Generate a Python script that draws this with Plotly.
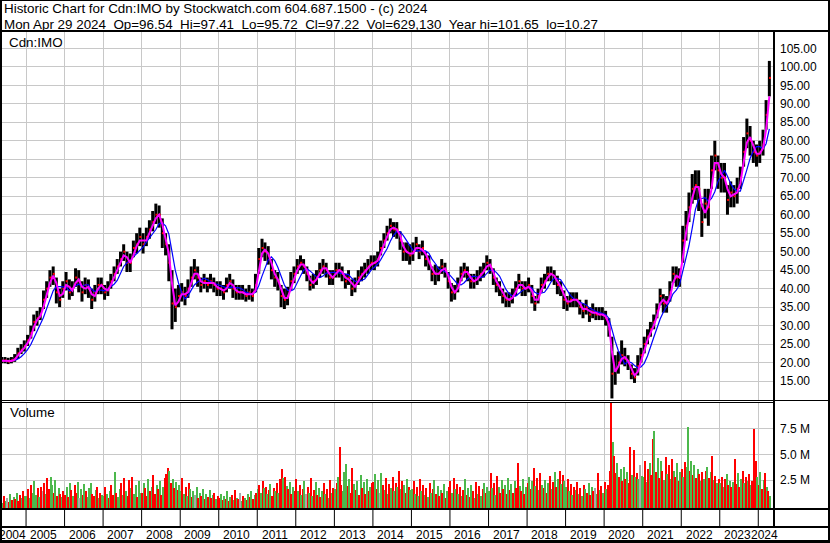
import plotly.graph_objects as go
import pandas as pd

W, H = 830, 543


def px(x):
    return x / W


def py(y):
    return 1 - y / H


FONT = "Liberation Sans, Arial, sans-serif"

# ---------------- data (monthly, May 2004 .. Apr 2024) ----------------
CLOSE = [
    20.5, 20.6, 20.3, 20.6, 21.0, 22.5, 23.5, 24.5,
    26, 28, 31, 32, 33, 37, 40, 43, 44, 39, 37, 40,
    42, 39, 40, 43, 42, 39, 41, 40, 37, 39, 41, 41,
    39, 40, 42, 44, 46, 48, 50, 47, 47, 51, 52, 54,
    52, 54, 56, 58, 60, 60, 55, 52, 47, 36, 35, 38,
    39, 38, 40, 43, 45, 43, 41, 42, 41, 42, 41, 40,
    40, 39, 41, 42, 40, 39, 39, 39, 38, 39, 38, 41,
    48, 51, 50, 49, 45, 43, 42, 38, 37, 38, 42, 44,
    46, 47, 46, 44, 41, 42, 43, 45, 46, 45, 43, 43,
    45, 45, 44, 42, 43, 40, 41, 43, 44, 45, 46, 47,
    47, 48, 51, 53, 55, 57, 56, 56, 53, 50, 50, 49,
    50, 52, 50, 51, 48, 47, 44, 44, 44, 46, 45, 42,
    39, 39, 41, 44, 45, 44, 42, 42, 43, 44, 45, 47,
    46, 43, 41, 40, 38, 37, 37, 38, 40, 42, 40, 40,
    41, 38, 36, 38, 41, 42, 44, 44, 43, 41, 40, 37,
    36, 37, 37, 37, 35, 34, 35, 33, 34, 33, 33, 33,
    32, 29, 17, 18, 20, 22, 21, 20, 17, 16, 19, 22,
    25, 27, 29, 31, 34, 38, 36, 36, 39, 44, 43, 43,
    53, 57, 62, 67, 68, 67, 58, 63, 62, 72, 76, 72,
    70, 70, 64, 66, 65, 67, 70, 77, 82, 80, 77, 76,
    77, 79, 87, 97,
]
HIGH = [
    21.5, 21.5, 21.3, 21.5, 22.3, 24.0, 25.0, 26.0,
    27.5, 30, 33, 34, 35, 39.5, 42, 45, 46, 43, 40, 42,
    44.5, 42.5, 42, 45.5, 45, 42, 43, 42.5, 40, 41, 43, 43,
    41, 42, 44, 46, 48, 50, 52, 50, 49.5, 53, 55, 56.5,
    55, 56.5, 58.5, 61, 63, 62.5, 59, 55, 52, 45, 40, 41,
    41.5, 40.5, 42.5, 46, 48, 46, 43, 44, 43, 44, 43, 42,
    42, 41, 43, 44, 42.5, 41, 41, 41, 40, 41, 40, 44,
    51, 53.5, 52.5, 51.5, 48, 45, 44.5, 41, 40, 40.5, 44.5, 46,
    48, 49, 48, 46, 43.5, 44, 45, 47, 48, 47, 45, 45,
    47, 47, 46, 44, 45, 42.5, 43, 45, 46, 47, 48, 49,
    49, 50, 53, 55, 57, 59, 58, 58, 55.5, 52.5, 52.5, 52,
    52.5, 54, 52, 53, 50, 49, 46, 46.5, 46, 48, 47, 44.5,
    41.5, 41, 43, 46, 47, 46, 44, 44, 45, 46, 47, 49,
    48, 45.5, 43, 42, 40, 39, 39, 40, 42, 44, 42, 42,
    43, 41, 38, 40, 43, 44, 46, 46, 45, 43.5, 42, 39.5,
    38, 39, 39, 39, 37, 36, 37, 35, 36, 35, 35, 35,
    34, 32, 27, 22, 23, 26, 24, 22, 19.5, 18.5, 22, 24,
    27, 29, 31, 33, 36, 40, 38.5, 38, 42, 46, 46, 45.5,
    57, 61, 66, 71, 72, 72, 63, 67, 67, 76, 80, 76,
    74, 74, 68, 69, 68, 70, 73, 81, 86, 84, 80, 79,
    80, 83, 91, 101.6,
]
LOW = [
    19.8, 19.8, 19.6, 19.8, 20.2, 21.0, 22.3, 23.0,
    24.5, 26.5, 28.5, 30, 31.5, 34.5, 37.5, 40.5, 41, 36, 35, 37.5,
    39.5, 37, 38, 40.5, 39, 36.5, 38.5, 37.5, 34.5, 36.5, 38.5, 38.5,
    37, 38, 40, 42, 44, 46, 47.5, 44.5, 44.5, 48.5, 49.5, 51.5,
    49.5, 51.5, 53.5, 55.5, 57.5, 56.5, 51, 49, 42, 29, 31, 35,
    36.5, 35.5, 37.5, 40.5, 42.5, 40.5, 39, 40, 39, 40, 39, 38,
    38, 37, 39, 40, 37.5, 37, 37, 37, 36.5, 37, 36.5, 39,
    44, 48.5, 47.5, 46.5, 42.5, 40.5, 39.5, 35, 34.5, 35.5, 39.5, 41.5,
    44, 45, 44, 42, 39.5, 40, 41, 43, 44, 43, 41, 41,
    43, 43, 42, 40, 41, 38, 39, 41, 42, 43, 44, 45,
    45, 46, 49, 51, 53, 55, 54, 53.5, 50.5, 47.5, 47.5, 46.5,
    47.5, 50, 48, 49, 46, 45, 42, 41, 42, 44, 43, 40,
    36.5, 37, 39, 42, 43, 42, 40, 40, 41, 42, 43, 45,
    44, 41, 39, 38, 36, 35, 35, 36, 38, 40, 38, 38,
    39, 36, 34, 36, 39, 40, 42, 42, 41, 38.5, 38, 34.5,
    34, 35, 35, 35, 33, 32, 33, 31, 32, 31.5, 31.5, 31.5,
    30, 27, 10.3, 14, 17, 19.5, 19, 18, 15.5, 14.5, 16.5, 20,
    22.5, 25, 27, 29, 32, 35.5, 33.5, 33.5, 36.5, 41.5, 40.5, 40.5,
    47, 53, 58, 63, 64, 61, 54, 59, 57, 67, 72, 67,
    66, 66, 60, 62, 62, 63, 67, 73, 78, 76, 74, 73,
    74, 76, 83, 92,
]

# volume, millions, two bars per month
VOLUME = [
    0.9, 0.5, 1.2, 0.7, 1.0, 0.6, 1.4, 0.8, 1.1, 0.9, 1.5, 0.7, 1.3, 1.0, 1.6, 1.2,
    1.2, 1.8, 1.0, 2.2, 1.5, 2.6, 1.3, 1.9, 1.1, 2.0, 1.6, 2.4, 1.4, 2.9, 1.8, 3.0, 2.2, 1.5, 2.7, 1.2, 1.9, 1.4, 1.1, 1.6,
    1.3, 2.0, 1.1, 2.4, 1.7, 1.2, 2.2, 1.5, 2.5, 1.0, 1.8, 1.3, 2.3, 1.6, 1.1, 1.9, 2.4, 1.4, 1.2, 1.7, 2.0, 1.0, 1.5, 1.3,
    1.2, 2.0, 1.4, 1.0, 1.6, 2.2, 1.3, 3.5, 1.5, 1.1, 1.8, 2.4, 1.3, 2.9, 1.6, 1.2, 2.7, 1.9, 3.0, 1.4, 2.2, 1.1, 2.6, 1.5,
    1.5, 2.4, 1.9, 1.2, 2.8, 1.6, 2.0, 3.2, 1.4, 2.2, 1.8, 2.6, 1.3, 2.0, 2.9, 3.3, 3.9, 3.6, 2.4, 2.8, 1.9, 2.5, 1.7, 2.2,
    1.6, 2.9, 1.4, 2.0, 1.2, 2.4, 1.8, 1.1, 1.6, 1.3, 2.0, 1.0, 1.5, 1.2, 1.8, 0.9, 1.4, 1.1, 1.7, 1.0, 1.3, 1.5, 0.9, 1.2,
    1.0, 1.4, 0.8, 1.2, 0.9, 1.6, 0.7, 1.1, 1.3, 0.8, 1.7, 1.0, 0.9, 1.5, 0.7, 1.2, 1.0, 0.8, 1.4, 1.1, 1.6, 0.9, 1.3, 1.5,
    1.8, 2.2, 1.5, 2.6, 1.9, 2.0, 1.4, 1.7, 2.3, 1.2, 1.9, 1.6, 2.4, 1.5, 2.8, 3.8, 2.9, 3.0, 2.1, 1.8, 2.5, 1.4, 2.0, 1.6,
    2.8, 1.6, 2.2, 1.3, 1.8, 2.6, 1.4, 2.0, 1.5, 2.9, 1.2, 1.7, 2.5, 1.3, 1.9, 1.1, 1.6, 2.4, 1.4, 1.8, 1.0, 2.7, 1.5, 1.9,
    1.8, 2.4, 3.0, 5.9, 2.2, 1.6, 3.5, 4.3, 2.1, 2.8, 1.5, 3.9, 2.3, 1.7, 2.6, 1.3, 3.2, 1.9, 2.5, 1.4, 2.8, 1.6, 2.0, 2.4,
    2.5, 3.3, 1.8, 2.7, 1.5, 3.4, 2.2, 1.7, 2.9, 1.4, 2.3, 1.9, 3.0, 1.6, 2.4, 2.0, 3.6, 1.8, 2.6, 2.2, 1.5, 2.8, 2.0, 1.7,
    1.8, 2.6, 1.4, 2.0, 1.2, 2.8, 1.6, 2.2, 1.3, 1.9, 1.1, 2.4, 1.5, 1.8, 2.7, 1.4, 2.1, 1.2, 1.7, 1.5, 2.3, 1.0, 1.6, 2.0,
    2.6, 1.5, 2.9, 1.8, 2.3, 1.4, 2.0, 1.2, 1.7, 2.8, 1.3, 1.9, 1.1, 2.2, 1.6, 1.0, 2.5, 1.4, 2.1, 1.2, 1.8, 2.4, 1.5, 2.0,
    1.6, 3.4, 1.9, 2.4, 1.3, 3.1, 2.0, 1.5, 2.7, 1.8, 2.2, 1.4, 2.9, 1.7, 2.3, 1.5, 2.6, 1.9, 4.4, 2.1, 1.6, 2.8, 1.4, 2.0,
    2.4, 3.0, 1.8, 2.6, 3.9, 2.1, 2.9, 1.7, 3.4, 2.2, 1.9, 2.7, 1.5, 2.4, 3.1, 1.8, 2.5, 3.5, 2.0, 2.8, 3.6, 2.3, 3.2, 2.6,
    2.0, 2.8, 1.6, 2.3, 1.3, 2.0, 1.7, 2.5, 1.4, 1.9, 1.2, 2.2, 1.8, 1.5, 2.4, 1.3, 2.0, 1.6, 1.9, 1.4, 3.4, 1.7, 2.1, 1.5,
    2.5, 1.8, 2.2, 3.6, 10.5, 6.4, 5.0, 3.4, 4.4, 3.0, 3.8, 2.6, 4.0, 2.8, 3.5, 2.4, 5.9, 3.2, 5.6, 3.0, 3.4, 2.8, 4.2, 3.1,
    3.0, 4.6, 2.5, 3.8, 4.4, 3.2, 6.7, 7.5, 3.5, 4.8, 2.9, 4.6, 3.6, 2.7, 4.9, 3.3, 4.2, 2.8, 4.7, 3.6, 3.0, 4.4, 2.6, 3.5,
    3.8, 3.0, 4.5, 4.0, 7.8, 3.6, 4.6, 3.2, 4.2, 2.9, 3.8, 3.3, 2.6, 3.5, 2.8, 3.6, 4.0, 2.9, 3.5, 5.0, 2.7, 3.1, 2.4, 2.8,
    2.4, 3.0, 2.0, 2.8, 3.3, 2.2, 2.6, 2.0, 2.5, 4.7, 2.3, 3.4, 2.0, 2.8, 3.6, 2.4, 3.0, 2.6, 3.3, 2.2, 2.6, 7.7, 4.6, 3.0,
    2.2, 3.5, 1.8, 2.7, 3.4, 2.0, 1.6, 1.2,
]
# r = down, g = up, n = unchanged
VOL_DIR = (
    "rgrgnrgrgrgrrgrg"
    "grgrgggrgrnrgrrggrgrgrgr"
    "rgrgrgrrgngrgrgggrrgrgrg"
    "grgrgrrgrggrgrgrrgrggrgg"
    "rgrrgrgrrgrgrgrrrgrgrgrg"
    "grgrgrgrgngrgrgrgrgrgrgr"
    "rgrgrgrgrgrgrngrgrgrgrgr"
    "grgrgrgrgrrgrgrrgrgrgrgr"
    "rgrgrgnrgrgrgrgrgrgrgrgr"
    "grgrrgggrgrrgrgrgrgrgrgr"
    "rgrgngrgrgrgrgrgrgrgrgrg"
    "grgrgrgrgrgrgrgrgrgrgrgr"
    "rgrgrgrgrgrgrgrgrgrgrgrg"
    "grgrgrgrgrgrgrgrgrrgrgrg"
    "rgrgrgrgrgrgrgrgrgrgrgrg"
    "grgrgrgrgrgrgrgrgrngrgrg"
    "rgrrrgrrgrgrgrgrrgrgrgng"
    "grgrgrrgrgrgrgrgrgrgrgrg"
    "rgrggrgrgrgrgrgrgrgrgrgr"
    "grgrgrgrgrrgrgrgrgrgrrrg"
    "rgrgrgrg"
)

YEAR_LABELS = [str(y) for y in range(2004, 2025)]
PRICE_TICKS = list(range(15, 110, 5))
VOL_TICKS = [2.5, 5.0, 7.5]
VOL_TICK_TEXT = ["2.5 M", "5.0 M", "7.5 M"]

HEADER1 = "Historic Chart for Cdn:IMO by Stockwatch.com 604.687.1500 - (c) 2024"
HEADER2 = ("Mon Apr 29 2024  Op=96.54  Hi=97.41  Lo=95.72  Cl=97.22  "
           "Vol=629,130  Year hi=101.65  lo=10.27")

# ---------------- derived positions ----------------
months = pd.date_range("2004-05-01", periods=len(CLOSE), freq="MS")
mid = months + pd.Timedelta(days=14)
vdates = []
for m in months:
    vdates.append(m + pd.Timedelta(days=7))
    vdates.append(m + pd.Timedelta(days=22))

close_s = pd.Series(CLOSE)
ma_fast = close_s.rolling(2, min_periods=1).mean()
ma_slow = close_s.rolling(5, min_periods=1).mean()

X0 = pd.Timestamp("2004-05-18")
X1 = pd.Timestamp("2024-05-29")

bx, by = [], []
for d, h, l in zip(mid, HIGH, LOW):
    bx += [d, d, None]
    by += [l, h, None]

cmap = {"r": "#ff0000", "g": "#4cb84c", "n": "#a8a8a8"}
vcolors = [cmap[c] for c in VOL_DIR]

fig = go.Figure()
fig.add_trace(go.Scatter(x=bx, y=by, mode="lines", line=dict(color="black", width=3),
                         hoverinfo="skip", xaxis="x", yaxis="y"))
fig.add_trace(go.Scatter(x=mid + pd.Timedelta(days=6), y=CLOSE, mode="markers",
                         marker=dict(color="#ff0000", size=2, symbol="square"),
                         hoverinfo="skip", xaxis="x", yaxis="y"))
fig.add_trace(go.Scatter(x=mid, y=ma_slow, mode="lines", line=dict(color="#0000ff", width=1.2),
                         xaxis="x", yaxis="y"))
fig.add_trace(go.Scatter(x=mid, y=ma_fast, mode="lines", line=dict(color="#ff00ff", width=2),
                         xaxis="x", yaxis="y"))
fig.add_trace(go.Bar(x=vdates, y=VOLUME, base=-0.19, marker=dict(color=vcolors, line=dict(width=0)),
                     width=13 * 24 * 3600 * 1000, xaxis="x2", yaxis="y2"))

year_starts = [pd.Timestamp(f"{y}-01-01") for y in range(2005, 2025)]
grid = "#c8c8c8"
tickfont = dict(family=FONT, size=12, color="black")

fig.update_layout(
    width=W, height=H, margin=dict(l=0, r=0, t=0, b=0),
    paper_bgcolor="white", plot_bgcolor="white", showlegend=False, bargap=0,
    xaxis=dict(domain=[px(2), px(774)], range=[X0, X1], type="date", tickvals=year_starts,
               showticklabels=False, showgrid=True, gridcolor=grid, gridwidth=1,
               zeroline=False, showline=False, ticks="", anchor="y"),
    yaxis=dict(domain=[py(400), py(32)], range=[9.88, 109.42], side="right",
               tickvals=PRICE_TICKS, ticktext=[f"{v:.2f}" for v in PRICE_TICKS],
               showgrid=True, gridcolor=grid, gridwidth=1, zeroline=False, showline=False,
               ticks="", tickfont=tickfont, ticklabelstandoff=5, anchor="x"),
    xaxis2=dict(domain=[px(2), px(774)], range=[X0, X1], type="date", tickvals=year_starts,
                showticklabels=False, showgrid=True, gridcolor=grid, gridwidth=1,
                zeroline=False, showline=False, ticks="", anchor="y2"),
    yaxis2=dict(domain=[py(508), py(403)], range=[-0.19, 9.98], side="right",
                tickvals=VOL_TICKS, ticktext=VOL_TICK_TEXT, showgrid=True, gridcolor=grid,
                gridwidth=1, zeroline=False, showline=False, ticks="", tickfont=tickfont,
                ticklabelstandoff=5, anchor="x2"),
)

ann = []
hfont = dict(family=FONT, size=13.4, color="black")
ann.append(dict(x=px(2), y=py(9), xref="paper", yref="paper", xanchor="left", yanchor="middle",
                text=HEADER1, showarrow=False, font=hfont))
ann.append(dict(x=px(2), y=py(24), xref="paper", yref="paper", xanchor="left", yanchor="middle",
                text=HEADER2.replace("  ", "\u00a0\u00a0"), showarrow=False, font=hfont))
ann.append(dict(x=px(7), y=py(42), xref="paper", yref="paper", xanchor="left", yanchor="middle",
                text="Cdn:IMO", showarrow=False, font=hfont))
ann.append(dict(x=px(8), y=py(413), xref="paper", yref="paper", xanchor="left", yanchor="middle",
                text="Volume", showarrow=False, font=hfont))

bounds = [X0] + year_starts + [X1]
for i, lab in enumerate(YEAR_LABELS):
    a, b = bounds[i], bounds[i + 1]
    c = a + (b - a) / 2
    ann.append(dict(x=c, y=py(535), xref="x", yref="paper", xanchor="center", yanchor="middle",
                    xshift=-1.5, text=lab, showarrow=False,
                    font=dict(family=FONT, size=12, color="black")))
fig.update_layout(annotations=ann)

shapes = []


def hline(y, x0, x1, w=1):
    shapes.append(dict(type="line", xref="paper", yref="paper", x0=px(x0), x1=px(x1),
                       y0=py(y), y1=py(y), line=dict(color="black", width=w)))


def vline(x, y0, y1, w=1):
    shapes.append(dict(type="line", xref="paper", yref="paper", x0=px(x), x1=px(x),
                       y0=py(y0), y1=py(y1), line=dict(color="black", width=w)))


hline(0.5, 0, 830, 1)
hline(31, 0, 830, 2)
hline(400.5, 0, 830, 1)
hline(402.5, 0, 774, 1)
hline(509, 0, 830, 2)
hline(527, 0, 830, 2)
hline(541.5, 0, 830, 3)
vline(1, 0, 543, 2)
vline(829, 0, 543, 2)
vline(774, 31, 527, 2)
for ys in year_starts:
    shapes.append(dict(type="line", xref="x", yref="paper", x0=ys, x1=ys,
                       y0=py(527), y1=py(510), line=dict(color="black", width=1)))
fig.update_layout(shapes=shapes)

fig.write_html("out.html", config={"displayModeBar": False},
               post_script="document.body.style.margin='0';document.body.style.padding='0';")
